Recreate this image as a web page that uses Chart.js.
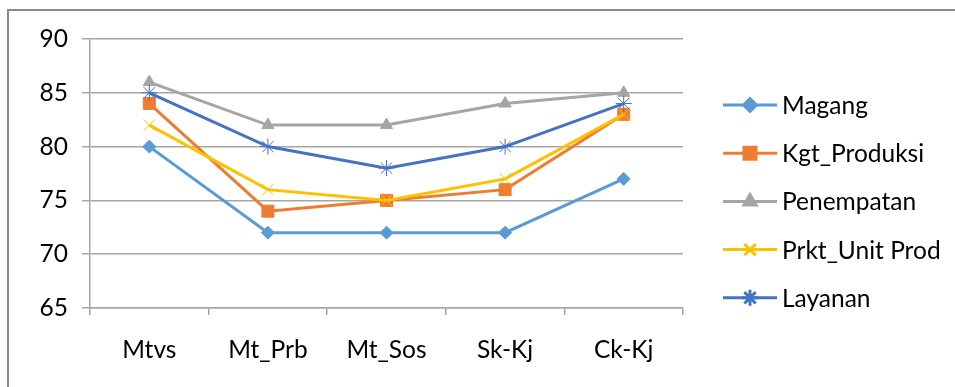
<!DOCTYPE html>
<html>
<head>
<meta charset="utf-8">
<script src="https://cdn.jsdelivr.net/npm/chart.js"></script>
<style>
  html, body { margin: 0; padding: 0; background: #fff; }
  #wrap { width: 955px; height: 387px; }
</style>
</head>
<body>
<div id="wrap"><canvas id="LineChart" width="955" height="387"></canvas></div>
<script>
const categories = ['Mtvs', 'Mt_Prb', 'Mt_Sos', 'Sk-Kj', 'Ck-Kj'];
const magang = [80, 72, 72, 72, 77];
const kgt_produksi = [84, 74, 75, 76, 83];
const penempatan = [86, 82, 82, 84, 85];
const prkt_unit_prod = [82, 76, 75, 77, 83];
const layanan = [85, 80, 78, 80, 84];
const y_ticks = [65, 70, 75, 80, 85, 90];

const FONT = 'Lato, "Open Sans", sans-serif';
const FONT_SIZE = 24.5;
const GRID = '#a6a6a6';

function series(label, data, color, style, radius, pbw, order) {
    return {
        label: label,
        data: data,
        borderColor: color,
        backgroundColor: color,
        borderWidth: 3,
        pointStyle: style,
        pointRadius: radius,
        pointHoverRadius: radius,
        pointBackgroundColor: color,
        pointBorderColor: color,
        pointBorderWidth: pbw,
        tension: 0,
        fill: false,
        order: order
    };
}

const datasets = [
    series('Magang', magang, '#5b9bd5', 'rectRot', 6.5, 1, 5),
    series('Kgt_Produksi', kgt_produksi, '#ed7d31', 'rect', 8.5, 1, 4),
    series('Penempatan', penempatan, '#a5a5a5', 'triangle', 7, 1, 3),
    series('Prkt_Unit Prod', prkt_unit_prod, '#ffc000', 'crossRot', 8, 1, 2),
    series('Layanan', layanan, '#4472c4', 'star', 8, 1, 1)
];

// frame: only top and left edges show in the picture
const framePlugin = {
    id: 'frame',
    beforeDraw(chart) {
        const ctx = chart.ctx;
        ctx.save();
        ctx.strokeStyle = '#8a8a8a';
        ctx.lineWidth = 2;
        ctx.beginPath();
        ctx.moveTo(8, 387);
        ctx.lineTo(8, 10);
        ctx.lineTo(955, 10);
        ctx.stroke();
        ctx.restore();
    }
};

// legend with line + marker, like the spreadsheet one
const sideLegend = {
    id: 'sideLegend',
    afterDraw(chart) {
        const ctx = chart.ctx;
        ctx.save();
        chart.data.datasets.forEach((ds, i) => {
            const y = 105 + 48.2 * i;
            ctx.strokeStyle = ds.borderColor;
            ctx.lineWidth = 3;
            ctx.beginPath();
            ctx.moveTo(723, y);
            ctx.lineTo(777, y);
            ctx.stroke();
            ctx.fillStyle = ds.pointBackgroundColor;
            ctx.strokeStyle = ds.pointBorderColor;
            Chart.helpers.drawPoint(ctx, {
                pointStyle: ds.pointStyle,
                radius: ds.pointRadius,
                borderWidth: ds.pointBorderWidth,
                rotation: 0
            }, 750, y);
            ctx.fillStyle = '#000';
            ctx.font = FONT_SIZE + 'px ' + FONT;
            ctx.textBaseline = 'middle';
            ctx.textAlign = 'left';
            ctx.fillText(ds.label, 782, y + 1);
        });
        ctx.restore();
    }
};

const ctx = document.getElementById('LineChart').getContext('2d');
const chart = new Chart(ctx, {
    type: 'line',
    data: { labels: categories, datasets: datasets },
    options: {
        responsive: false,
        animation: false,
        events: [],
        layout: { padding: { left: 0, right: 272, top: 39, bottom: 0 } },
        plugins: { legend: { display: false }, tooltip: { enabled: false } },
        scales: {
            x: {
                offset: true,
                grid: { offset: true, drawOnChartArea: false, drawTicks: true, tickLength: 7, color: GRID, lineWidth: 1.5 },
                border: { color: GRID, width: 1.5 },
                ticks: { color: '#000', font: { family: FONT, size: FONT_SIZE }, padding: 20, maxRotation: 0 },
                afterFit(scale) { scale.height = 79; }
            },
            y: {
                min: 65,
                max: 90,
                afterBuildTicks(scale) { scale.ticks = y_ticks.map(v => ({ value: v })); },
                grid: { color: GRID, lineWidth: 1.5, tickLength: 8 },
                border: { color: GRID, width: 1.5 },
                ticks: { color: '#000', font: { family: FONT, size: FONT_SIZE }, padding: 14 },
                afterFit(scale) { scale.width = 90; }
            }
        }
    },
    plugins: [framePlugin, sideLegend]
});
</script>
</body>
</html>
